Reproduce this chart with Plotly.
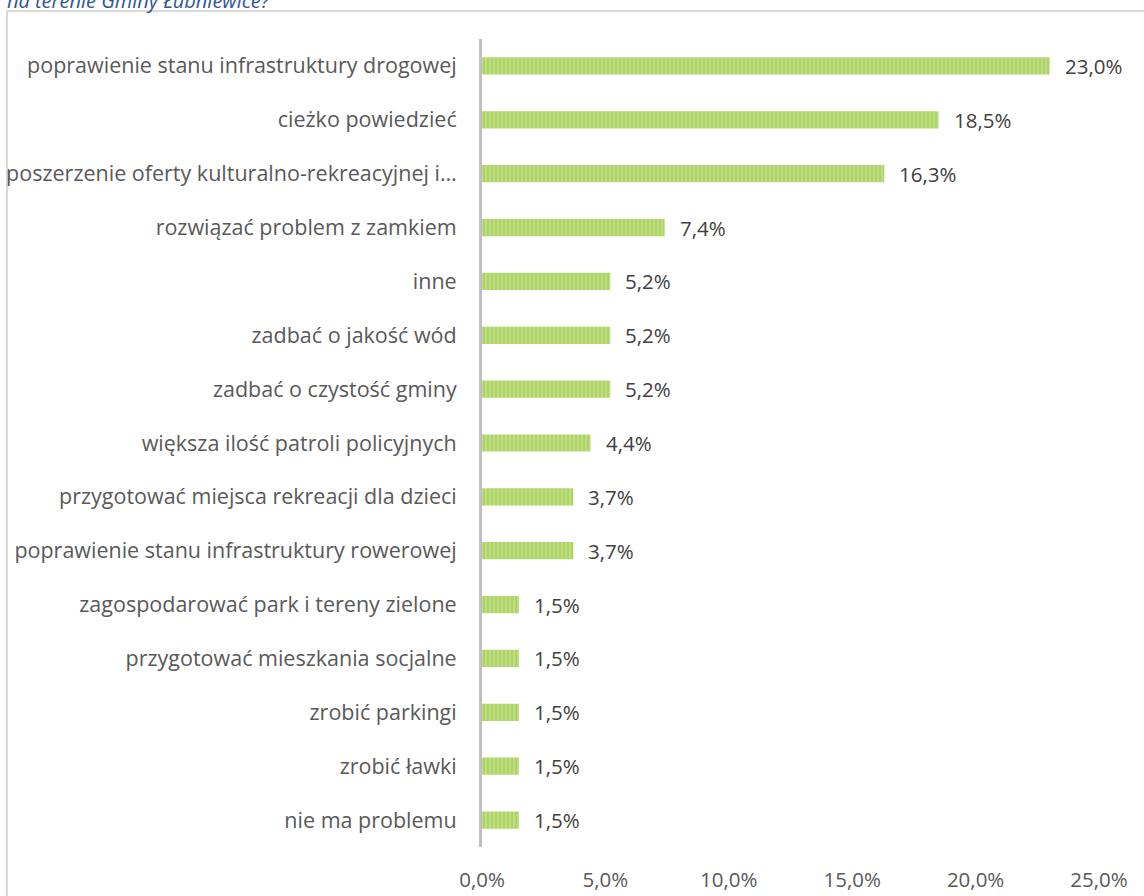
import plotly.graph_objects as go

categories = [
    "poprawienie stanu infrastruktury drogowej",
    "cieżko powiedzieć",
    "poszerzenie oferty kulturalno-rekreacyjnej i…",
    "rozwiązać problem z zamkiem",
    "inne",
    "zadbać o jakość wód",
    "zadbać o czystość gminy",
    "większa ilość patroli policyjnych",
    "przygotować miejsca rekreacji dla dzieci",
    "poprawienie stanu infrastruktury rowerowej",
    "zagospodarować park i tereny zielone",
    "przygotować mieszkania socjalne",
    "zrobić parkingi",
    "zrobić ławki",
    "nie ma problemu",
]
values = [23.0, 18.5, 16.3, 7.4, 5.2, 5.2, 5.2, 4.4, 3.7, 3.7, 1.5, 1.5, 1.5, 1.5, 1.5]
x_ticks = [0, 5, 10, 15, 20, 25]
x_tick_labels = ["0,0%", "5,0%", "10,0%", "15,0%", "20,0%", "25,0%"]
title_text = "na terenie Gminy Łubniewice?"

W, H = 1144, 896
ML, MR, MT, MB = 482, 45, 39, 49
pw = W - ML - MR
ph = H - MT - MB

FONT = "Open Sans"

fig = go.Figure()
fig.add_trace(go.Bar(
    y=categories,
    x=values,
    orientation="h",
    marker=dict(
        color="#c4e08a",
        line=dict(width=0),
        pattern=dict(shape="|", fgcolor="#92c83e", bgcolor="#c4e08a", size=4, solidity=0.6),
    ),
    width=0.32,
    hoverinfo="skip",
))

for c, v in zip(categories, values):
    fig.add_annotation(
        x=v, y=c, xref="x", yref="y",
        text=f"{v:.1f}".replace(".", ",") + "%",
        showarrow=False, xanchor="left", yanchor="middle", xshift=13,
        font=dict(family=FONT, size=20.5, color="#404040"),
    )

# outer chart border (cut by the picture edges)
fig.add_shape(
    type="rect", xref="paper", yref="paper",
    x0=(7 - ML) / pw, x1=2.0,
    y0=-1.0, y1=1 + (MT - 11) / ph,
    line=dict(color="#d9d9d9", width=2), fillcolor="rgba(0,0,0,0)", layer="below",
)

fig.update_layout(
    width=W, height=H,
    margin=dict(l=ML, r=MR, t=MT, b=MB, autoexpand=False),
    paper_bgcolor="white", plot_bgcolor="white",
    showlegend=False,
    title=dict(
        text=title_text, xref="container", yref="container",
        x=7 / W, xanchor="left", y=1 - 1 / H, yanchor="middle",
        font=dict(family=FONT, size=20, color="#2f5597", style="italic"),
    ),
    xaxis=dict(
        range=[0, 25], tickvals=x_ticks, ticktext=x_tick_labels,
        showgrid=False, zeroline=False, showline=False, ticks="",
        ticklabelstandoff=18,
        tickfont=dict(family=FONT, size=20.5, color="#595959"),
    ),
    yaxis=dict(
        categoryorder="array", categoryarray=categories, autorange="reversed",
        showgrid=False, zeroline=False, showline=True, linecolor="#bfbfbf", linewidth=3,
        ticks="", ticklabelstandoff=18,
        tickfont=dict(family=FONT, size=21.5, color="#595959"),
    ),
    bargap=0.68,
)

fig.write_html(
    "out.html",
    config={"displayModeBar": False},
    post_script="document.body.style.margin='0';document.body.style.overflow='hidden';",
)
